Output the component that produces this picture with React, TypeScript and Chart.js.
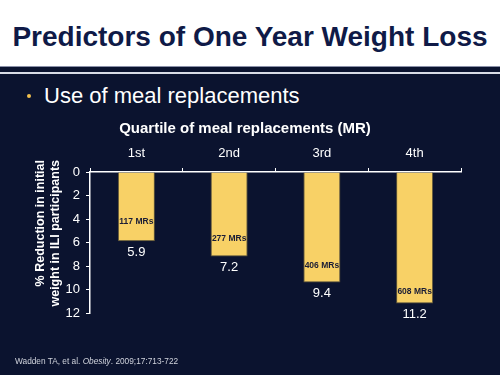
import React, { useEffect, useRef } from "react";
import { Chart, registerables } from "chart.js";

Chart.register(...registerables);

const slideTitle = "Predictors of One Year Weight Loss";
const bulletText = "Use of meal replacements";
const chartTitle = "Quartile of meal replacements (MR)";
const yTitleLines = ["% Reduction in initial", "weight in ILI participants"];
const categories = ["1st", "2nd", "3rd", "4th"];
const reductionPct = [5.9, 7.2, 9.4, 11.2];
const valueLabels = ["5.9", "7.2", "9.4", "11.2"];
const mrLabels = ["117 MRs", "277 MRs", "406 MRs", "608 MRs"];
const mrLabelAt = [4.2, 5.65, 8.0, 10.2];
const yMin = 0;
const yMax = 12;
const yStep = 2;

const FONT = "'Liberation Sans', Arial, Helvetica, sans-serif";
const BG = "#0b132f";

const labelPlugin = {
  id: "barLabels",
  afterDatasetsDraw(chart: any) {
    const ctx = chart.ctx;
    const meta = chart.getDatasetMeta(0);
    const yScale = chart.scales.y;
    ctx.save();
    meta.data.forEach((bar: any, i: number) => {
      ctx.fillStyle = "#ffffff";
      ctx.font = `13px ${FONT}`;
      ctx.textAlign = "center";
      ctx.textBaseline = "middle";
      ctx.fillText(valueLabels[i], bar.x, bar.y + 11);
      ctx.fillStyle = "#1a1d36";
      ctx.font = `bold 8.5px ${FONT}`;
      ctx.fillText(mrLabels[i], bar.x, yScale.getPixelForValue(mrLabelAt[i]));
    });
    ctx.restore();
  },
  afterDraw(chart: any) {
    const ctx = chart.ctx;
    const top = chart.chartArea.top;
    ctx.save();
    ctx.fillStyle = "#ffffff";
    ctx.font = `bold 12.5px ${FONT}`;
    ctx.textBaseline = "middle";
    ctx.textAlign = "right";
    yTitleLines.forEach((line, i) => {
      ctx.save();
      ctx.translate(41 + i * 15, top - 12);
      ctx.rotate(-Math.PI / 2);
      ctx.fillText(line, 0, 0);
      ctx.restore();
    });
    ctx.restore();
  },
};

function BarChart() {
  const ref = useRef<HTMLCanvasElement>(null);
  useEffect(() => {
    if (!ref.current) return;
    const chart = new Chart(ref.current, {
      type: "bar",
      data: {
        labels: categories,
        datasets: [
          {
            data: reductionPct,
            backgroundColor: "#f8d166",
            borderColor: "#5e5538",
            borderWidth: 1,
            borderSkipped: "start",
            barPercentage: 0.4,
            categoryPercentage: 1,
          },
        ],
      },
      options: {
        responsive: false,
        animation: false,
        devicePixelRatio: 1,
        layout: { padding: { left: 29, right: 39, top: 0, bottom: 62 } },
        plugins: {
          legend: { display: false },
          tooltip: { enabled: false },
          title: {
            display: true,
            text: chartTitle,
            color: "#ffffff",
            font: { family: FONT, size: 15, weight: "bold", lineHeight: 1.2 },
            padding: { top: 120, bottom: 4 },
          },
        },
        scales: {
          x: {
            position: "top",
            offset: true,
            afterFit: (s: any) => {
              s.height = 30;
            },
            grid: {
              offset: true,
              drawOnChartArea: false,
              tickLength: 4,
              color: "#ffffff",
            },
            border: { color: "#ffffff", width: 1.5 },
            ticks: {
              color: "#ffffff",
              font: { family: FONT, size: 13 },
              padding: 7,
            },
          },
          y: {
            reverse: true,
            min: yMin,
            max: yMax,
            afterFit: (s: any) => {
              s.width = 61;
            },
            grid: {
              drawOnChartArea: false,
              tickLength: 4,
              color: "#ffffff",
            },
            border: { color: "#ffffff", width: 1.5 },
            ticks: {
              stepSize: yStep,
              color: "#ffffff",
              font: { family: FONT, size: 13 },
              padding: 6,
            },
          },
        },
      },
      plugins: [labelPlugin],
    });
    return () => chart.destroy();
  }, []);
  return (
    <canvas
      ref={ref}
      width={500}
      height={375}
      style={{ position: "absolute", left: 0, top: 0, width: 500, height: 375 }}
    />
  );
}

export default function App() {
  return (
    <div
      style={{
        position: "absolute",
        left: 0,
        top: 0,
        width: 500,
        height: 375,
        background: BG,
        overflow: "hidden",
        fontFamily: FONT,
      }}
    >
      <div
        style={{
          position: "absolute",
          left: 0,
          top: 0,
          width: 500,
          height: 66,
          background: "#ffffff",
        }}
      />
      <div
        style={{
          position: "absolute",
          left: 0,
          top: 66,
          width: 500,
          height: 1,
          background: "#8a90a8",
        }}
      />
      <div
        style={{
          position: "absolute",
          left: 0,
          top: 72,
          width: 500,
          height: 2,
          background: "#d9dce6",
        }}
      />
      <div
        style={{
          position: "absolute",
          left: 0,
          top: 20,
          width: 500,
          height: 34,
          lineHeight: "34px",
          textAlign: "center",
          color: "#0f1a47",
          fontWeight: "bold",
          fontSize: 28,
          whiteSpace: "nowrap",
        }}
      >
        {slideTitle}
      </div>
      <div
        style={{
          position: "absolute",
          left: 27,
          top: 94,
          width: 4,
          height: 4,
          borderRadius: 2,
          background: "#f2c14e",
        }}
      />
      <div
        style={{
          position: "absolute",
          left: 44,
          top: 83,
          height: 26,
          lineHeight: "26px",
          color: "#ffffff",
          fontSize: 22,
          whiteSpace: "nowrap",
        }}
      >
        {bulletText}
      </div>
      <BarChart />
      <div
        style={{
          position: "absolute",
          left: 15,
          top: 355,
          height: 12,
          lineHeight: "12px",
          color: "#d0d3dc",
          fontSize: 8.3,
          whiteSpace: "nowrap",
        }}
      >
        Wadden TA, et al. <i>Obesity</i>. 2009;17:713-722
      </div>
    </div>
  );
}
